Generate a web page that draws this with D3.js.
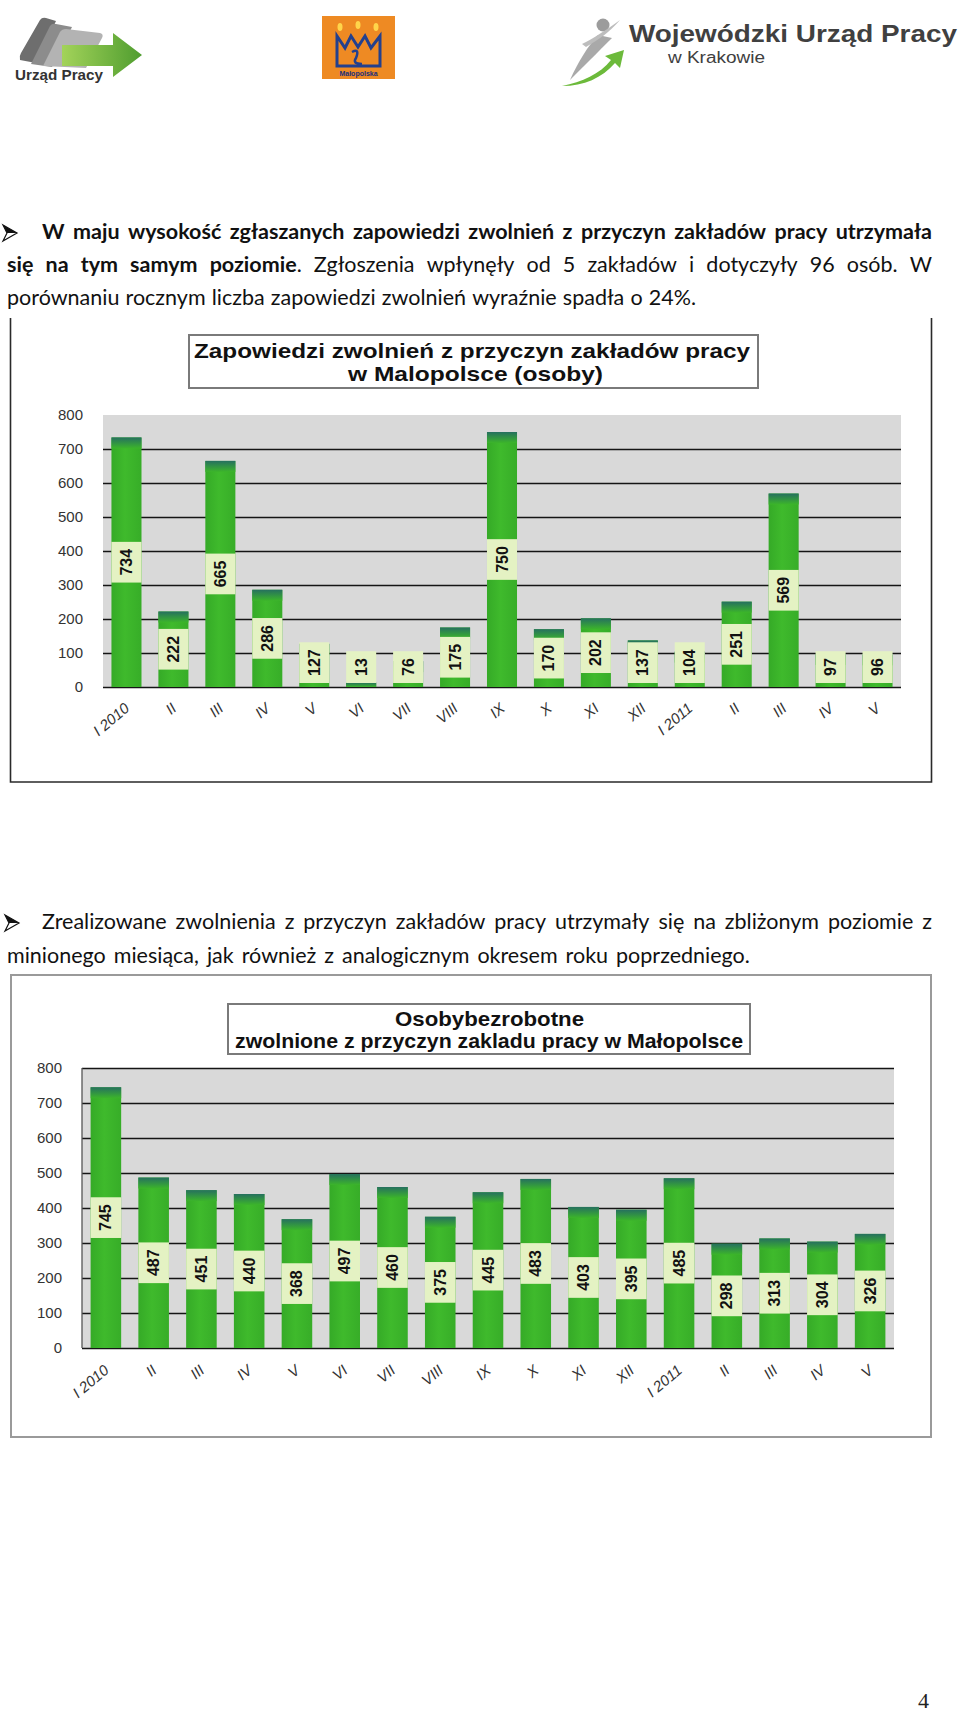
<!DOCTYPE html>
<html><head><meta charset="utf-8">
<script src="https://cdn.jsdelivr.net/npm/d3@7/dist/d3.min.js"></script>
<style>body{margin:0;background:#fff}svg{display:block}</style>
</head><body>
<script>
// ---------- DATA ----------
const months = ["I 2010","II","III","IV","V","VI","VII","VIII","IX","X","XI","XII","I 2011","II","III","IV","V"];
const zapowiedzi = [734,222,665,286,127,13,76,175,750,170,202,137,104,251,569,97,96];
const zwolnieni = [745,487,451,440,368,497,460,375,445,483,403,395,485,298,313,304,326];
const yTicks = [0,100,200,300,400,500,600,700,800];
const title1 = ["Zapowiedzi zwolnień z przyczyn zakładów pracy","w Malopolsce (osoby)"];
const title2 = ["Osobybezrobotne","zwolnione z przyczyn zakladu pracy w Małopolsce"];
const para1 = [
  [{t:"W maju wysokość zgłaszanych zapowiedzi zwolnień z przyczyn zakładów pracy utrzymała",b:true}],
  [{t:"się na tym samym poziomie",b:true},{t:". Zgłoszenia wpłynęły od 5 zakładów i dotyczyły 96 osób. W",b:false}],
  [{t:"porównaniu rocznym liczba zapowiedzi zwolnień wyraźnie spadła o 24%.",b:false}]
];
const para2 = [
  [{t:"Zrealizowane zwolnienia z przyczyn zakładów pracy utrzymały się na zbliżonym poziomie z",b:false}],
  [{t:"minionego miesiąca, jak również z analogicznym okresem roku poprzedniego.",b:false}]
];

// ---------- SETUP ----------
const W = 960, H = 1712;
const FONT = "'Liberation Sans', Arial, sans-serif";
const TXT = "Lato, 'Open Sans', sans-serif";
const svg = d3.select("body").append("svg").attr("width", W).attr("height", H).style("font-family", FONT);
const defs = svg.append("defs");
const cap = defs.append("linearGradient").attr("id","cap").attr("x1",0).attr("y1",0).attr("x2",0).attr("y2",1);
cap.append("stop").attr("offset","0%").attr("stop-color","#26705f");
cap.append("stop").attr("offset","100%").attr("stop-color","#3cb52a");
const body = defs.append("linearGradient").attr("id","body").attr("x1",0).attr("y1",0).attr("x2",1).attr("y2",0);
body.append("stop").attr("offset","0%").attr("stop-color","#35aa27");
body.append("stop").attr("offset","45%").attr("stop-color","#3fba2c");
body.append("stop").attr("offset","100%").attr("stop-color","#37ad28");
const arrowG = defs.append("linearGradient").attr("id","arrowG").attr("x1",0).attr("y1",0).attr("x2",1).attr("y2",0);
arrowG.append("stop").attr("offset","0%").attr("stop-color","#a3d35a");
arrowG.append("stop").attr("offset","100%").attr("stop-color","#4f9d2f");

// ---------- LOGOS ----------
const lg = svg.append("g");
lg.append("path").attr("d","M20,60 Q19,56 21,53 L40,20 Q42,17 46,18 L56,21 L36,63 Z").attr("fill","#6e6e6e");
lg.append("path").attr("d","M31,64 L50,26 Q52,23 56,24 L72,27 L52,67 Z").attr("fill","#8c8c8c");
lg.append("path").attr("d","M43,66 L60,32 Q62,29 66,29 L100,33 Q104,34 102,38 L86,68 Z").attr("fill","#b3b3b3");
lg.append("path").attr("d","M62,45 H113 V33 L142,55 L113,77 V66 H62 Z").attr("fill","url(#arrowG)");
lg.append("text").attr("x",15).attr("y",80).attr("font-size",14).attr("font-weight","bold").attr("fill","#333")
  .attr("textLength",88).attr("lengthAdjust","spacingAndGlyphs").text("Urząd Pracy");
// Malopolska
lg.append("rect").attr("x",322).attr("y",16).attr("width",73).attr("height",63).attr("fill","#ee8a23");
[[340,27],[358,25],[376,27]].forEach(p=>lg.append("ellipse").attr("cx",p[0]).attr("cy",p[1]).attr("rx",2.5).attr("ry",4).attr("fill","#ffd54a"));
lg.append("path").attr("d","M337,36 L345,48 L351,36 L358,47 L365,36 L371,48 L380,36 V66 H337 Z").attr("fill","none").attr("stroke","#23408e").attr("stroke-width",3);
lg.append("path").attr("d","M352,52 Q360,48 356,58 Q352,64 362,64").attr("fill","none").attr("stroke","#23408e").attr("stroke-width",2.5);
lg.append("text").attr("x",358.5).attr("y",76).attr("text-anchor","middle").attr("font-size",7).attr("font-weight","bold").attr("fill","#1b2f7a").text("Małopolska");
// WUP
lg.append("circle").attr("cx",603).attr("cy",25).attr("r",6.5).attr("fill","#9c9c9c");
lg.append("path").attr("d","M598,35 C588,46 578,62 570,80 C584,66 596,54 612,38 Z").attr("fill","#a9a9a9");
lg.append("path").attr("d","M582,44 C594,38 606,30 620,20 C610,32 598,40 586,47 Z").attr("fill","#bdbdbd");
lg.append("path").attr("d","M562,86 C582,82 600,74 611,60 L605,56 L624,50 L620,68 L615,63 C602,78 584,86 562,86 Z").attr("fill","#6cba3b");
lg.append("text").attr("x",629).attr("y",42).attr("font-size",24).attr("font-weight","bold").attr("fill","#404040")
  .attr("textLength",328).attr("lengthAdjust","spacingAndGlyphs").text("Wojewódzki Urząd Pracy");
lg.append("text").attr("x",668).attr("y",63).attr("font-size",16).attr("fill","#404040")
  .attr("textLength",97).attr("lengthAdjust","spacingAndGlyphs").text("w Krakowie");

// ---------- PARAGRAPHS ----------
function words(segs){
  const out=[]; let cur=[];
  segs.forEach(s=>{
    s.t.split(" ").forEach((p,k)=>{
      if(k>0){ if(cur.length) out.push(cur); cur=[]; }
      if(p) cur.push({t:p,b:s.b});
    });
  });
  if(cur.length) out.push(cur);
  return out;
}
function addRuns(el, runs){
  runs.forEach(r=>el.append("tspan").attr("font-weight", r.b?"bold":"normal").text(r.t));
}
function line(segs, x0, x1, base, justify, fs){
  const ws = words(segs);
  const widths = ws.map(w=>{
    const t = svg.append("text").attr("font-family",TXT).attr("font-size",fs);
    addRuns(t,w);
    const len = t.node().getComputedTextLength(); t.remove(); return len;
  });
  const sum = d3.sum(widths);
  let gap = (x1-x0-sum)/(ws.length-1);
  if(!justify) gap = Math.max(3, Math.min(gap, 8));
  const t = svg.append("text").attr("font-family",TXT).attr("font-size",fs).attr("y",base).attr("fill","#111");
  let x = x0;
  ws.forEach((w,i)=>{
    w.forEach((r,k)=>{
      const ts = t.append("tspan").attr("font-weight", r.b?"bold":"normal").text(r.t);
      if(k===0) ts.attr("x", x);
    });
    x += widths[i] + gap;
  });
}
function bullet(x, base){
  // arrowhead bullet (Wingdings-like)
  svg.append("path").attr("d",`M${x},${base-16} L${x+14},${base-8} L${x},${base} L${x+4},${base-8} Z`).attr("fill","none").attr("stroke","#111").attr("stroke-width",1.2);
  svg.append("path").attr("d",`M${x},${base-16} L${x+14},${base-8} L${x+4},${base-8} Z`).attr("fill","#111");
}
const FS = 21.5;
bullet(3, 241);
line(para1[0], 42, 932, 239, true, FS);
line(para1[1], 7, 932, 272, true, FS);
line(para1[2], 7, 696, 305, false, FS);
bullet(5, 931);
line(para2[0], 42, 932, 929, true, FS);
line(para2[1], 7, 772, 963, false, FS);

// ---------- CHARTS ----------
function chart(cfg){
  const g = svg.append("g");
  if(cfg.frame==="open"){
    g.append("path").attr("d",`M${cfg.fx0},${cfg.fy0} V${cfg.fy1} H${cfg.fx1} V${cfg.fy0}`).attr("fill","none").attr("stroke","#2a2a2a").attr("stroke-width",1.6);
  } else {
    g.append("rect").attr("x",cfg.fx0).attr("y",cfg.fy0).attr("width",cfg.fx1-cfg.fx0).attr("height",cfg.fy1-cfg.fy0)
      .attr("fill","#fff").attr("stroke","#9a9a9a").attr("stroke-width",2);
  }
  // title
  g.append("rect").attr("x",cfg.tb[0]).attr("y",cfg.tb[1]).attr("width",cfg.tb[2]-cfg.tb[0]).attr("height",cfg.tb[3]-cfg.tb[1])
    .attr("fill","#fff").attr("stroke","#7a7a7a").attr("stroke-width",2);
  cfg.title.forEach((t,i)=>{
    g.append("text").attr("x",cfg.tx[i]).attr("y",cfg.ty[i]).attr("font-size",21).attr("font-weight","bold").attr("fill","#111")
      .attr("textLength",cfg.tl[i]).attr("lengthAdjust","spacingAndGlyphs").text(t);
  });
  const x = d3.scaleBand().domain(d3.range(cfg.values.length)).range([cfg.x0,cfg.x1]).paddingInner(0.36).paddingOuter(0.18);
  const y = d3.scaleLinear().domain([0,800]).range([cfg.y0,cfg.yTop]);
  g.append("rect").attr("x",cfg.x0).attr("y",y(800)).attr("width",cfg.x1-cfg.x0).attr("height",y(0)-y(800)).attr("fill","#d9d9d9");
  g.selectAll(".grid").data(cfg.grid).join("line").attr("class","grid")
    .attr("x1",cfg.x0).attr("x2",cfg.x1).attr("y1",d=>Math.round(y(d))+0.5).attr("y2",d=>Math.round(y(d))+0.5)
    .attr("stroke","#151515").attr("stroke-width",1.3);
  if(cfg.leftBorder) g.append("line").attr("x1",cfg.x0).attr("x2",cfg.x0).attr("y1",y(800)).attr("y2",y(0)).attr("stroke","#555").attr("stroke-width",1.3);
  // y axis
  const ya = g.append("g").attr("transform",`translate(${cfg.labelX},0)`).call(d3.axisLeft(y).tickValues(yTicks).tickSize(0).tickPadding(0));
  ya.select(".domain").remove();
  ya.selectAll("text").attr("font-size",15).attr("fill","#333").attr("font-family",FONT);
  // bars
  const bw = x.bandwidth();
  const bars = g.selectAll(".bar").data(cfg.values).join("g").attr("class","bar");
  bars.append("rect").attr("x",(d,i)=>x(i)).attr("width",bw).attr("y",d=>y(d)).attr("height",d=>y(0)-y(d)).attr("fill","url(#body)");
  bars.append("rect").attr("x",(d,i)=>x(i)).attr("width",bw).attr("y",d=>y(d)).attr("height",d=>Math.min(11,y(0)-y(d))).attr("fill","url(#cap)");
  // value labels
  bars.each(function(d,i){
    const b = d3.select(this);
    const cx = x(i)+bw/2;
    const t = b.append("text").attr("font-size",16).attr("font-weight","bold").attr("fill","#111").attr("font-family",FONT)
      .attr("text-anchor","middle").attr("dominant-baseline","central").text(d);
    const h = t.node().getComputedTextLength()+14;
    const cy = Math.min(y(d/2), y(0)-4-h/2);
    b.insert("rect","text").attr("x",x(i)).attr("width",bw).attr("y",cy-h/2).attr("height",h).attr("fill","#e4f2c3");
    t.attr("transform",`translate(${cx},${cy}) rotate(-90)`);
  });
  // x axis
  const xa = g.append("g").attr("transform",`translate(0,${cfg.y0})`).call(d3.axisBottom(x).tickFormat(i=>months[i]).tickSize(0));
  xa.select(".domain").remove();
  xa.selectAll("text").attr("font-size",15).attr("font-style","italic").attr("fill","#333").attr("font-family",FONT)
    .attr("text-anchor","end").attr("x",4).attr("y",cfg.xly).attr("dy",0)
    .attr("transform",`rotate(-40,4,${cfg.xly})`);
}

chart({values:zapowiedzi, frame:"open", fx0:10.5, fy0:318, fx1:931.5, fy1:782,
  tb:[189,335,758,388], title:title1, tx:[194,348], ty:[358,381], tl:[556,255],
  x0:103, x1:901, y0:687, yTop:415, grid:[0,100,200,300,400,500,600,700], leftBorder:false, labelX:83, xly:23});

chart({values:zwolnieni, frame:"rect", fx0:11, fy0:975, fx1:931, fy1:1437,
  tb:[228,1004,750,1054], title:title2, tx:[395,235], ty:[1026,1048], tl:[189,508],
  x0:82, x1:894, y0:1348, yTop:1068, grid:[0,100,200,300,400,500,600,700,800], leftBorder:true, labelX:62, xly:24});

// page number
svg.append("text").attr("x",918).attr("y",1708).attr("font-family","'Liberation Serif', serif").attr("font-size",22).attr("fill","#222").text("4");
</script>
</body></html>
